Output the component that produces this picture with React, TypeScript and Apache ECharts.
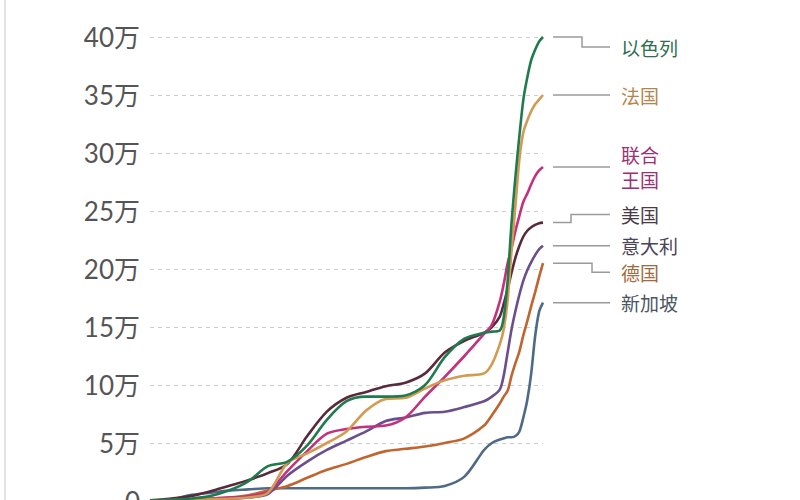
import React, { useEffect, useRef } from "react";
import * as echarts from "echarts";

const days = [0, 5, 10, 15, 20, 25, 30, 35, 40, 45, 50, 55, 60, 65, 70, 75, 80, 85, 87, 89, 90, 91, 92, 93, 94, 95, 96, 97, 98, 99, 100];

const israel = [0.05, 0.1, 0.2, 0.4, 0.9, 1.7, 3.0, 3.4, 4.8, 7.0, 8.6, 9.0, 9.0, 9.1, 10.0, 12.4, 14.0, 14.5, 14.6, 14.7, 15.8, 19.0, 24.0, 28.0, 31.5, 34.6, 36.5, 38.0, 38.9, 39.6, 40.0];
const france = [0, 0.05, 0.1, 0.15, 0.2, 0.3, 0.7, 3.3, 4.1, 5.0, 6.0, 7.8, 8.8, 8.9, 9.7, 10.4, 10.8, 11.0, 11.8, 13.5, 14.8, 17.3, 21.6, 25.5, 29.5, 31.8, 32.8, 33.6, 34.2, 34.6, 35.0];
const uk = [0.05, 0.1, 0.1, 0.2, 0.3, 0.4, 0.8, 2.6, 4.3, 5.8, 6.2, 6.4, 6.5, 7.2, 9.0, 10.7, 12.5, 14.4, 15.2, 17.2, 18.7, 20.5, 21.8, 23.3, 24.6, 25.8, 26.5, 27.3, 28.0, 28.5, 28.8];
const usa = [0.05, 0.2, 0.4, 0.8, 1.3, 1.8, 2.4, 3.2, 5.6, 7.7, 8.9, 9.4, 9.9, 10.2, 11.0, 12.8, 13.8, 14.5, 15.0, 15.9, 17.0, 18.3, 19.7, 21.0, 22.0, 22.8, 23.3, 23.6, 23.8, 23.95, 24.0];
const italy = [0, 0.05, 0.1, 0.1, 0.2, 0.3, 0.6, 2.2, 3.4, 4.4, 5.2, 6.0, 6.9, 7.2, 7.6, 7.7, 8.1, 8.6, 9.0, 9.6, 10.8, 12.8, 14.8, 16.4, 17.8, 19.0, 19.9, 20.6, 21.2, 21.7, 22.0];
const germany = [0.05, 0.1, 0.1, 0.2, 0.3, 0.5, 0.9, 1.3, 2.0, 2.7, 3.2, 3.8, 4.3, 4.5, 4.7, 5.0, 5.4, 6.5, 7.4, 8.4, 9.0, 9.5, 10.8, 11.9, 12.9, 14.3, 15.5, 16.8, 18.0, 19.3, 20.5];
const singapore = [0.05, 0.1, 0.5, 0.7, 0.9, 1.0, 1.1, 1.1, 1.1, 1.1, 1.1, 1.1, 1.1, 1.1, 1.15, 1.3, 2.1, 4.4, 5.0, 5.3, 5.4, 5.5, 5.5, 5.6, 6.0, 7.2, 8.7, 11.0, 14.2, 16.3, 17.1];

const seriesNames = ["以色列", "法国", "联合王国", "美国", "意大利", "德国", "新加坡"];
const labelLines = [["以色列"], ["法国"], ["联合", "王国"], ["美国"], ["意大利"], ["德国"], ["新加坡"]];
const seriesValues = [israel, france, uk, usa, italy, germany, singapore];
const lineColors = ["#1f7a4d", "#d39a52", "#c3317c", "#5a2a3a", "#6a4f8c", "#c0652f", "#4e6a88"];
const labelColors = ["#2e6e4e", "#b8844c", "#9e3072", "#4a3a48", "#4a4458", "#a36a3e", "#4a5662"];
// label layout: vertical shift of label from line end (px), elbow offset (px) or null
const labelShift = [10, -2, 0, -8, -2, 9, 0];
const elbowOffset = [39, null, null, 28, null, 49, null];

const yTicks = [0, 5, 10, 15, 20, 25, 30, 35, 40];

export default function App() {
  const ref = useRef<HTMLDivElement>(null);
  useEffect(() => {
    document.body.style.margin = "0";
    const chart = echarts.init(ref.current!, null, { renderer: "svg" });
    const option: any = {
      animation: false,
      backgroundColor: "#ffffff",
      grid: { left: 150, right: 257, top: 37, height: 464, outerBoundsMode: "none", containLabel: false },
      xAxis: { type: "value", min: 0, max: 100, show: false },
      yAxis: {
        type: "value",
        min: 0,
        max: 40,
        interval: 5,
        axisLine: { show: false },
        axisTick: { show: false },
        axisLabel: {
          margin: 10,
          color: "#555555",
          fontSize: 26,
          fontFamily: "Lato, 'Noto Sans CJK SC', sans-serif",
          formatter: (v: number) => (v === 0 ? "0" : yTicks.includes(v) ? v + "万" : ""),
        },
        splitLine: { lineStyle: { color: "#cfcfcf", type: [4, 4], width: 1 } },
      },
      series: seriesNames.map((name, i) => ({
        name,
        type: "line",
        data: days.map((d, j) => [d, seriesValues[i][j]]),
        smooth: 0.3,
        showSymbol: false,
        lineStyle: { width: 2.6, color: lineColors[i] },
        z: 10 - i,
      })),
    };
    chart.setOption(option);

    const graphics: any[] = [
      { type: "line", shape: { x1: 5, y1: 0, x2: 5, y2: 500 }, style: { stroke: "#e2e2e2", lineWidth: 2 } },
    ];
    seriesNames.forEach((_, i) => {
      const vals = seriesValues[i];
      const p = chart.convertToPixel({ seriesIndex: i }, [days[days.length - 1], vals[vals.length - 1]]) as number[];
      const ex = p[0];
      const ey = p[1];
      const ly = ey + labelShift[i];
      const sx = ex + 10;
      const tx = ex + 67;
      const eb = elbowOffset[i];
      const pts: number[][] =
        eb === null
          ? [[sx, ey], [tx, ey]]
          : [[sx, ey], [ex + eb, ey], [ex + eb, ly], [tx, ly]];
      graphics.push({
        type: "polyline",
        shape: { points: pts },
        style: { stroke: "#9a9a9a", lineWidth: 1.5, fill: null },
      });
      const lines = labelLines[i];
      const cy = eb === null ? ey : ly;
      lines.forEach((t, k) => {
        graphics.push({
          type: "text",
          x: ex + 78,
          y: cy + (k - (lines.length - 1) / 2) * 25,
          style: {
            text: t,
            fill: labelColors[i],
            fontSize: 19,
            lineHeight: 19,
            fontFamily: "'Noto Sans CJK SC', sans-serif",
            verticalAlign: "middle",
            align: "left",
          },
        });
      });
    });
    chart.setOption({ graphic: graphics });
    return () => chart.dispose();
  }, []);
  return <div ref={ref} style={{ width: 800, height: 500 }} />;
}
